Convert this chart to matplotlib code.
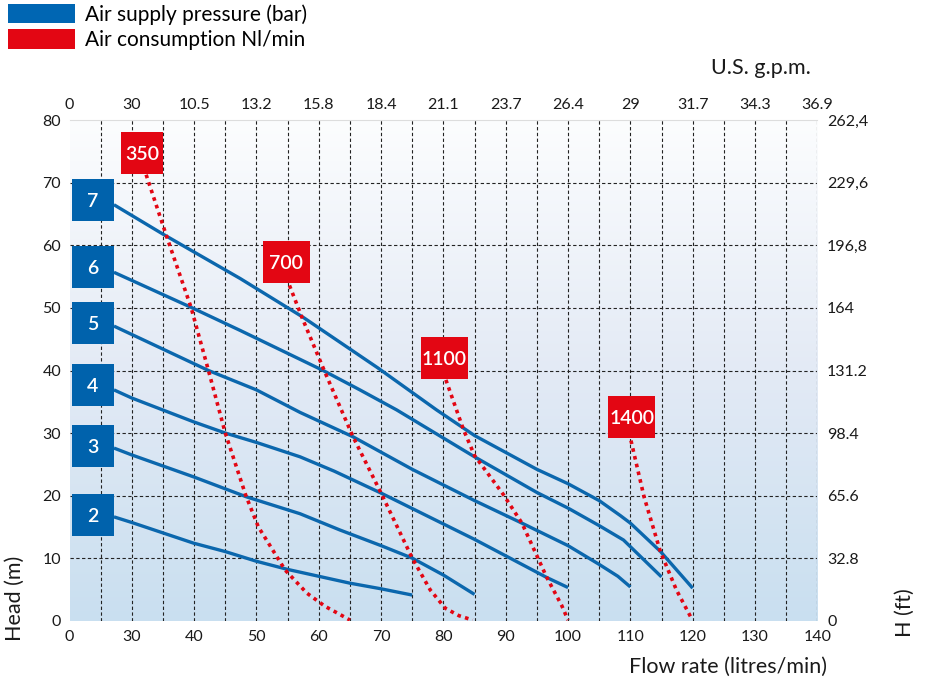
import numpy as np
import matplotlib
matplotlib.use('Agg')
import matplotlib.pyplot as plt
from matplotlib import transforms
from matplotlib.patches import Rectangle, Patch
from matplotlib.colors import LinearSegmentedColormap

plt.rcParams['font.family'] = ['Lato', 'DejaVu Sans']

# bottom axis is broken: 0 then 30..140
flow_ticks = [0, 30, 40, 50, 60, 70, 80, 90, 100, 110, 120, 130, 140]
gpm_labels = ['0', '30', '10.5', '13.2', '15.8', '18.4', '21.1', '23.7',
              '26.4', '29', '31.7', '34.3', '36.9']
head_ticks = [0, 10, 20, 30, 40, 50, 60, 70, 80]
feet_labels = ['0', '32.8', '65.6', '98.4', '131.2', '164', '196,8', '229,6', '262,4']

# air supply pressure curves (bar): flow l/min, head m
p2_q = [21.4, 30, 39.9, 45, 50, 55, 60, 65, 70, 75]
p2_h = [16.6, 15.7, 12.4, 11.05, 9.5, 8.2, 7.1, 6.0, 5.1, 4.1]
p3_q = [21.4, 30, 39.9, 48.4, 57, 63.4, 70, 75, 80, 85]
p3_h = [27.6, 26.5, 23.0, 19.8, 17.1, 14.5, 12.0, 10.0, 7.3, 4.2]
p4_q = [21.4, 30, 39.9, 45, 50, 57, 62.5, 70, 85, 96.6, 100]
p4_h = [36.9, 35.6, 31.8, 30.0, 28.5, 26.2, 23.9, 20.4, 13.0, 6.9, 5.3]
p5_q = [21.4, 42.3, 50, 57, 65.5, 75, 85, 92.6, 100, 105, 108, 110]
p5_h = [47.1, 40.0, 36.9, 33.3, 29.4, 24.2, 19.2, 15.6, 12.0, 9.0, 7.1, 5.4]
p6_q = [21.4, 39.5, 47.4, 60.7, 66.6, 72.5, 85, 95, 100, 105, 108.9, 115]
p6_h = [55.7, 50.1, 46.4, 40.0, 36.9, 33.7, 26.2, 20.5, 18.0, 15.2, 12.9, 7.0]
p7_q = [21.4, 35.0, 47.4, 57.5, 69.5, 78.9, 85, 95, 100, 105, 108.4, 110, 114.8, 120]
p7_h = [66.5, 61.8, 54.7, 48.5, 40.4, 33.7, 29.6, 24.2, 21.9, 19.2, 16.8, 15.6, 11.1, 5.2]
pressures = ['2', '3', '4', '5', '6', '7']
pressure_q = [p2_q, p3_q, p4_q, p5_q, p6_q, p7_q]
pressure_h = [p2_h, p3_h, p4_h, p5_h, p6_h, p7_h]

# air consumption curves (Nl/min)
a350_q = [32.3, 35.6, 39.5, 42.3, 45, 48.3, 50.3, 52.3, 54.6, 58.1, 61, 63.4, 65]
a350_h = [71.3, 61.4, 50.1, 40.0, 30.0, 20.0, 15.0, 11.8, 8.1, 4.4, 2.3, 1.0, 0.1]
a700_q = [55.3, 57.3, 61.0, 65.5, 70, 75, 77.9, 80.3, 82.5, 84.7]
a700_h = [53.6, 48.5, 39.7, 29.4, 20.4, 10.0, 4.9, 2.0, 0.8, 0.1]
a1100_q = [80.4, 83.2, 85, 89.6, 92.6, 96.6, 99, 100]
a1100_h = [38.5, 30.6, 26.4, 20.2, 15.6, 6.9, 2.4, 0.1]
a1400_q = [110.1, 112.2, 114.8, 117.4, 119.9]
a1400_h = [28.8, 19.8, 11.1, 4.9, 0.2]
consumptions = ['350', '700', '1100', '1400']
air_q = [a350_q, a700_q, a1100_q, a1400_q]
air_h = [a350_h, a700_h, a1100_h, a1400_h]

BLUE = '#0b67ad'
BOX_BLUE = '#0062ac'
RED = '#e30613'


def fwd(x):
    x = np.asarray(x, dtype=float)
    return np.where(x < 30, x / 3.0, x - 20.0)


def inv(p):
    p = np.asarray(p, dtype=float)
    return np.where(p < 10, p * 3.0, p + 20.0)


def badge(fig, ax, x, y, text, color, w_px, h_px):
    tr = fig.dpi_scale_trans + transforms.ScaledTranslation(x, y, ax.transData)
    w, h = w_px / fig.dpi, h_px / fig.dpi
    ax.add_patch(Rectangle((-w / 2, -h / 2), w, h, transform=tr, facecolor=color,
                           edgecolor='none', zorder=6, clip_on=False))
    ax.text(x, y, text, color='white', fontsize=14, fontweight='semibold',
            ha='center', va='center_baseline', zorder=7)


fig = plt.figure(figsize=(9.3, 6.87), dpi=100)
ax = fig.add_axes([69.5 / 930, 66.3 / 687, 747.8 / 930, 500.4 / 687])
ax.set_xscale('function', functions=(fwd, inv))
ax.set_xlim(0, 140)
ax.set_ylim(0, 80)

# background gradient
cmap = LinearSegmentedColormap.from_list('bg', ['#c9dff0', '#e3eaf5', '#fcfdfe'])
grad = np.linspace(0, 1, 256).reshape(-1, 1)
ax.imshow(grad, cmap=cmap, aspect='auto', extent=[0, 1, 0, 1], origin='lower',
          transform=ax.transAxes, zorder=0)

# dashed grid
ax.xaxis.remove_overlapping_locs = False
ax.yaxis.remove_overlapping_locs = False
grid_q = [15] + list(range(30, 141, 5))
ax.set_xticks(grid_q, minor=True)
ax.set_yticks(range(10, 80, 10), minor=True)
ax.grid(True, which='minor', color='#222222', lw=0.8, ls=(0, (3, 2.2)), zorder=1)
ax.set_axisbelow(False)

ax.set_xticks(flow_ticks)
ax.set_xticklabels([str(t) for t in flow_ticks])
ax.set_yticks(head_ticks)
ax.tick_params(which='both', length=0, labelsize=11.5, colors='#1a1a1a')
ax.tick_params(axis='x', pad=7)
ax.tick_params(axis='y', pad=6)
for s in ['left', 'right', 'bottom']:
    ax.spines[s].set_visible(False)
ax.spines['top'].set_color('#dddddd')
ax.spines['top'].set_linewidth(0.8)

for q, h in zip(pressure_q, pressure_h):
    ax.plot(q, h, color=BLUE, lw=2.4, solid_capstyle='butt', zorder=3)
for q, h in zip(air_q, air_h):
    ax.plot(q, h, color=RED, lw=2.6, ls=(0, (1, 1.2)), dash_capstyle='butt', zorder=4)

# labels on the curves
blue_y = [16.9, 27.9, 37.7, 47.55, 56.6, 67.3]
for lab, yy in zip(pressures, blue_y):
    badge(fig, ax, 11.3, yy, lab, BOX_BLUE, 42, 42)
red_pos = [(31.6, 74.7), (54.8, 57.3), (80.15, 42.0), (110.2, 32.6)]
red_w = [42, 47, 47, 47]
for lab, (xx, yy), w in zip(consumptions, red_pos, red_w):
    badge(fig, ax, xx, yy, lab, RED, w, 42)

# top axis: U.S. g.p.m.
axt = ax.twiny()
axt.set_xscale('function', functions=(fwd, inv))
axt.set_xlim(0, 140)
axt.set_xticks(flow_ticks)
axt.set_xticklabels(gpm_labels)
axt.tick_params(length=0, labelsize=11.5, pad=6, colors='#1a1a1a')
for s in axt.spines.values():
    s.set_visible(False)

# right axis: H (ft)
axr = ax.twinx()
axr.set_ylim(0, 80)
axr.set_yticks(head_ticks)
axr.set_yticklabels(feet_labels)
axr.tick_params(length=0, labelsize=11.5, pad=7, colors='#1a1a1a')
for s in axr.spines.values():
    s.set_visible(False)

fig.text(728 / 930, 1 - 667 / 687, 'Flow rate (litres/min)', fontsize=15.5,
         ha='center', va='center', color='#1a1a1a')
fig.text(15 / 930, 1 - 598 / 687, 'Head (m)', fontsize=15.5, rotation=90,
         ha='center', va='center', color='#1a1a1a')
fig.text(905 / 930, 1 - 613 / 687, 'H (ft)', fontsize=15.5, rotation=90,
         ha='center', va='center', color='#1a1a1a')
fig.text(761 / 930, 1 - 68 / 687, 'U.S. g.p.m.', fontsize=15.5,
         ha='center', va='center', color='#1a1a1a')

handles = [Patch(facecolor='#0066b3', edgecolor='none'),
           Patch(facecolor=RED, edgecolor='none')]
fig.legend(handles, ['Air supply pressure (bar)', 'Air consumption Nl/min'],
           loc='upper left', bbox_to_anchor=(8 / 930, 1 - 4 / 687), frameon=False,
           fontsize=15, handlelength=3.2, handleheight=1.05, handletextpad=0.5,
           labelspacing=0.22, borderpad=0, borderaxespad=0)

fig.savefig('out.png', dpi=100)
